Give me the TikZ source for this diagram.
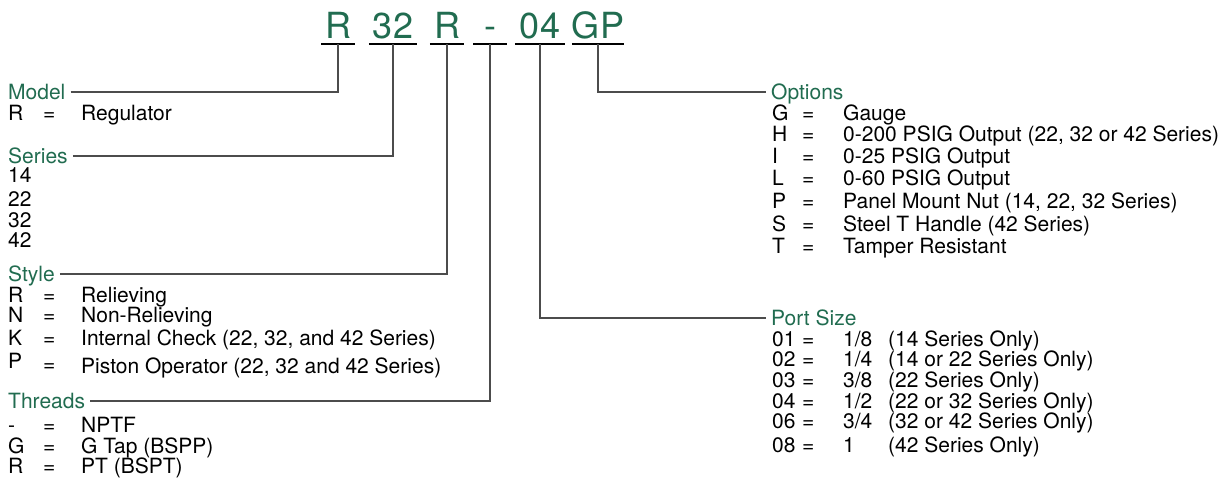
\documentclass[tikz,border=0pt]{standalone}
\usepackage{fontspec}
\setmainfont{TeX Gyre Heros}
\definecolor{codegreen}{RGB}{33,108,80}
\begin{document}
\begin{tikzpicture}[x=1pt,y=-1pt,
	codebox/.style={anchor=base,text=codegreen,font=\fontsize{36}{40}\selectfont,
		inner xsep=0pt,inner ysep=5.5pt,text depth=0pt},
	catlabel/.style={anchor=west,text=codegreen,font=\fontsize{21}{24}\selectfont,
		inner xsep=5pt,inner ysep=0pt,text height=15pt,text depth=0pt},
	entry/.style={anchor=base west,inner sep=0pt,font=\fontsize{21}{24}\selectfont},
	link/.style={draw=black!70,line width=1.3pt},
	underbar/.style={draw=black,line width=2pt}]
	\useasboundingbox (0,0) rectangle (1230,477);
	% part number
	\node[codebox,minimum width=33pt] (cModel) at (338,38.5) {R};
	\node[codebox,minimum width=48pt] (cSeries) at (393,38.5) {32};
	\node[codebox,minimum width=34pt] (cStyle) at (447,38.5) {R};
	\node[codebox,minimum width=33pt] (cThreads) at (490,38.5) {-};
	\node[codebox,minimum width=50pt] (cPort) at (540,38.5) {04};
	\node[codebox,minimum width=50pt] (cOpt) at (598,38.5) {GP};
	\foreach \c in {cModel,cSeries,cStyle,cThreads,cPort,cOpt}
		\draw[underbar] (\c.south west) -- (\c.south east);
	% left column
	\node[catlabel] (model) at (3,92) {Model};
	\node[entry] (model k1) at (8,120) {R};
	\node[entry] (model e1) at (43,120) {=};
	\node[entry] (model v1) at (81,120) {Regulator};
	\node[catlabel] (series) at (3,156) {Series};
	\foreach \v/\y [count=\i] in {14/182,22/206,32/227,42/247}
		\node[entry] (series v\i) at (8,\y) {\v};
	\node[catlabel] (style) at (3,274) {Style};
	\foreach \k/\v/\y [count=\i] in {R/Relieving/302,N/Non-Relieving/322,
		K/{Internal Check (22, 32, and 42 Series)}/345}{
		\node[entry] (style k\i) at (8,\y) {\k};
		\node[entry] (style e\i) at (43,\y) {=};
		\node[entry] (style v\i) at (81,\y) {\v};
	}
	\node[entry] (style k4) at (8,368) {P};
	\node[entry] (style e4) at (43,371) {=};
	\node[entry] (style v4) at (81,373) {Piston Operator (22, 32 and 42 Series)};
	\node[catlabel] (threads) at (3,401) {Threads};
	\foreach \k/\v/\y [count=\i] in {-/NPTF/432,G/G Tap (BSPP)/453,R/PT (BSPT)/473}{
		\node[entry] (threads k\i) at (8,\y) {\k};
		\node[entry] (threads e\i) at (43,\y) {=};
		\node[entry] (threads v\i) at (81,\y) {\v};
	}
	% right column
	\node[catlabel] (options) at (766,92) {Options};
	\foreach \k/\v/\y [count=\i] in {G/Gauge/120,
		H/{0-200 PSIG Output (22, 32 or 42 Series)}/141,
		I/0-25 PSIG Output/163,L/0-60 PSIG Output/185,
		P/{Panel Mount Nut (14, 22, 32 Series)}/208,
		S/Steel T Handle (42 Series)/231,T/Tamper Resistant/253}{
		\node[entry] (options k\i) at (772,\y) {\k};
		\node[entry] (options e\i) at (802,\y) {=};
		\node[entry] (options v\i) at (843,\y) {\v};
	}
	\node[catlabel] (port) at (766,318) {Port Size};
	\foreach \k/\f/\r/\y [count=\i] in {01/1\slash 8/14 Series Only/346,
		02/1\slash 4/14 or 22 Series Only/366,03/3\slash 8/22 Series Only/387,
		04/1\slash 2/22 or 32 Series Only/408,06/3\slash 4/32 or 42 Series Only/428,
		08/1/42 Series Only/452}{
		\node[entry] (port k\i) at (772,\y) {\k};
		\node[entry] (port e\i) at (802,\y) {=};
		\node[entry] (port v\i) at (843,\y) {\makebox[45pt][l]{\f}(\r)};
	}
	% connectors
	\draw[link] (model.east) -| (cModel.south);
	\draw[link] (series.east) -| (cSeries.south);
	\draw[link] (style.east) -| (cStyle.south);
	\draw[link] (threads.east) -| (cThreads.south);
	\draw[link] (cPort.south) |- (port.west);
	\draw[link] (cOpt.south) |- (options.west);
\end{tikzpicture}
\end{document}
